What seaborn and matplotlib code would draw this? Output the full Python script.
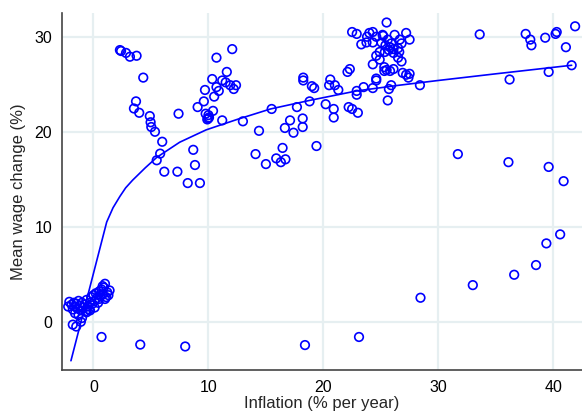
import matplotlib
matplotlib.use("Agg")
import matplotlib.pyplot as plt
import seaborn as sns
import pandas as pd

# ----------------------------------------------------------
# Data
# ----------------------------------------------------------

# near-zero inflation cluster
infl_low = [-2.2, -2.1, -1.9, -1.8, -1.7, -1.6, -1.5, -1.4, -1.3, -1.2, -1.1, -1.0,
            -0.9, -0.8, -0.7, -0.6, -0.5, -0.4, -0.3, -0.2, -0.1, 0.0, 0.1, 0.2,
            0.3, 0.4, 0.5, 0.6, 0.7, 0.8, 0.9, 1.0, 0.8, 1.1, 1.2, 1.3, 0.5, -1.6,
            -1.3, -1.0, -1.1, -1.5, -1.8, -0.6, -0.3, 0.1, 1.0, 1.4]
wage_low = [1.6, 2.1, 1.8, 1.3, 2.0, 1.6, 1.9, 1.4, 2.2, 1.7, 1.2, 2.0,
            1.5, 1.8, 1.1, 2.3, 1.6, 1.3, 2.0, 2.6, 1.9, 2.8, 2.2, 3.0,
            2.5, 2.0, 3.2, 2.7, 3.4, 2.9, 3.6, 4.0, 3.75, 2.6, 3.1, 2.8, 2.4, 0.9,
            0.7, 0.4, 0.0, -0.5, -0.3, 1.0, 1.2, 1.5, 2.4, 3.3]

# negative wage change outliers
infl_neg = [0.7, 4.07, 7.98, 18.4, 23.1]
wage_neg = [-1.6, -2.4, -2.6, -2.45, -1.6]

# inflation 2-13
infl_mid1 = [2.3, 2.4, 2.83, 3.17, 3.75, 4.33, 3.7, 3.52, 3.98, 4.9, 4.97, 5.03,
             5.35, 5.98, 7.4, 8.68, 5.8, 5.5, 6.16, 7.3, 8.83, 8.2, 9.26,
             10.33, 10.7, 11.6, 12.07, 11.2, 11.5, 12.4, 12.2, 11.9, 10.7, 10.9,
             10.5, 9.7, 9.6, 9.06, 9.76, 10.0, 9.98, 9.9, 10.05, 10.4, 11.2, 13.0]
wage_mid1 = [28.6, 28.5, 28.3, 27.9, 28.0, 25.7, 23.2, 22.45, 22.0, 21.65, 21.0, 20.5,
             20.0, 18.95, 21.9, 18.1, 17.7, 17.0, 15.8, 15.8, 16.5, 14.6, 14.6,
             25.55, 27.8, 26.3, 28.7, 25.4, 25.2, 24.9, 24.5, 24.9, 24.7, 24.3,
             23.7, 24.4, 23.2, 22.6, 21.9, 21.75, 21.4, 21.3, 21.5, 22.2, 21.2, 21.1]

# inflation 13-22
infl_mid2 = [14.4, 15.5, 16.65, 17.1, 17.4, 18.2, 18.2, 17.7, 16.45, 19.4, 18.25,
             18.25, 19.0, 19.2, 18.8, 20.2, 20.9, 20.9, 20.6, 20.5, 21.0, 21.3,
             14.1, 15.9, 16.7, 15.0, 16.3]
wage_mid2 = [20.1, 22.4, 20.4, 21.2, 19.9, 21.4, 20.5, 22.6, 18.3, 18.5, 25.7,
             25.4, 24.8, 24.6, 23.2, 22.9, 22.4, 21.5, 25.5, 24.9, 24.9, 24.4,
             17.65, 17.2, 17.1, 16.6, 16.8]

# dense cluster 22-28
infl_high = [22.1, 22.3, 22.2, 22.5, 23.0, 22.9, 22.9, 23.5, 24.3, 24.3, 24.6, 25.6,
             25.7, 25.9, 22.5, 22.9, 25.5, 24.0, 24.3, 23.8, 23.3, 23.75, 24.3, 24.6,
             25.2, 25.6, 26.2, 26.65, 27.2, 27.5, 25.05, 25.4, 25.8, 25.9, 25.7, 26.1,
             26.5, 26.8, 25.35, 26.1, 26.6, 24.9, 24.6, 24.9, 26.5, 26.8, 25.3, 25.5,
             25.3, 25.8, 26.9, 27.2, 27.5, 24.6, 27.4, 28.4, 25.15, 26.1]
wage_high = [26.3, 26.6, 22.6, 22.4, 22.0, 24.3, 23.9, 24.7, 24.6, 27.1, 25.4, 23.3,
             24.5, 24.9, 30.5, 30.3, 31.5, 30.4, 30.5, 30.0, 29.2, 29.4, 29.4, 30.0,
             30.1, 29.7, 30.2, 29.7, 30.4, 29.7, 29.4, 29.1, 28.9, 29.3, 28.6, 28.7,
             28.8, 29.3, 28.4, 28.3, 28.4, 28.4, 28.0, 27.6, 27.8, 27.4, 26.8, 26.5,
             26.4, 26.4, 26.2, 26.0, 26.1, 25.6, 25.7, 24.9, 30.2, 26.6]

# inflation above 28
infl_top = [33.6, 37.6, 38.0, 38.1, 39.3, 40.3, 40.2, 41.9, 41.1, 36.2, 39.6, 41.6,
            31.7, 36.1, 39.6, 40.9, 40.6, 39.4, 38.5, 36.6, 33.0, 28.45]
wage_top = [30.25, 30.3, 29.7, 29.1, 29.9, 30.5, 30.3, 31.1, 28.9, 25.5, 26.3, 27.0,
            17.65, 16.8, 16.3, 14.8, 9.2, 8.25, 5.97, 4.95, 3.86, 2.53]

# fitted curve
curve_x = [-1.96, 1.15, 1.7, 2.3, 2.8, 3.4, 4.5, 5.5, 7.5, 9.8, 12.5, 15.4, 18.8,
           22.9, 26.6, 30, 35, 41.6]
curve_y = [-4.1, 10.5, 12.0, 13.2, 14.1, 14.9, 16.2, 17.3, 18.9, 20.2, 21.3, 22.4,
           23.3, 24.3, 24.9, 25.4, 26.1, 27.0]

x_ticks = [0, 10, 20, 30, 40]
y_ticks = [0, 10, 20, 30]

# ----------------------------------------------------------
# Build frames
# ----------------------------------------------------------

df = pd.DataFrame({
    'inflation': infl_low + infl_neg + infl_mid1 + infl_mid2 + infl_high + infl_top,
    'wage': wage_low + wage_neg + wage_mid1 + wage_mid2 + wage_high + wage_top
})
fit = pd.DataFrame({'inflation': curve_x, 'wage': curve_y})

# ----------------------------------------------------------
# Plot
# ----------------------------------------------------------

sns.set_style("white")
plt.rcParams['font.family'] = ['Liberation Sans', 'DejaVu Sans']

blue = '#0000FF'
grid_col = '#E6EFF1'
axis_col = '#444444'

fig = plt.figure(figsize=(5.82, 4.13), dpi=100)
ax = fig.add_axes([0.1065, 0.104, 0.8935, 0.8645])

ax.set_xlim(-2.74, 42.5)
ax.set_ylim(-5.08, 32.5)
ax.set_xticks(x_ticks)
ax.set_yticks(y_ticks)

ax.grid(True, color=grid_col, linewidth=1.6)
ax.set_axisbelow(True)

sns.scatterplot(
    data=df, x='inflation', y='wage', ax=ax,
    marker='o', s=38, facecolor='none', edgecolor=blue, linewidth=1.2,
    zorder=3
)
sns.lineplot(
    data=fit, x='inflation', y='wage', ax=ax, sort=False,
    color=blue, linewidth=1.2, zorder=4
)

for side in ['top', 'right']:
    ax.spines[side].set_visible(False)
for side in ['left', 'bottom']:
    ax.spines[side].set_color(axis_col)
    ax.spines[side].set_linewidth(1.2)

ax.tick_params(axis='both', length=4, width=1, color=axis_col,
               labelsize=11.5, labelcolor='black', pad=3)

ax.set_xlabel("Inflation (% per year)", fontsize=12, labelpad=1)
ax.set_ylabel("Mean wage change (%)", fontsize=12, labelpad=6)

plt.savefig("out.png", dpi=100)
